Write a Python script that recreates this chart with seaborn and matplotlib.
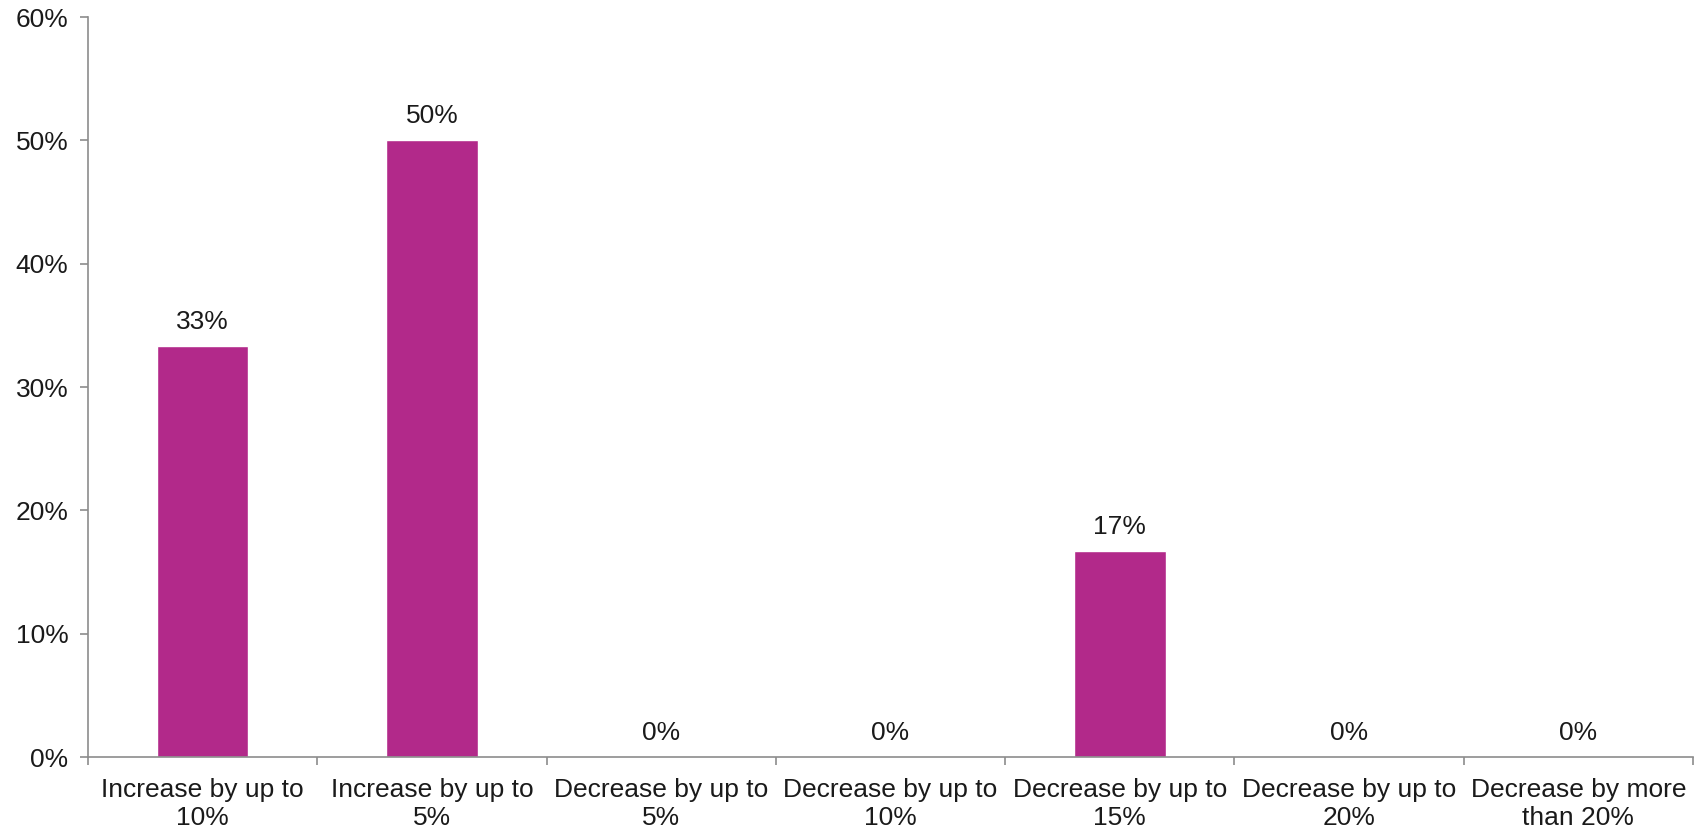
import matplotlib
matplotlib.use("Agg")
import matplotlib.pyplot as plt
import seaborn as sns
import pandas as pd
from matplotlib.ticker import FixedLocator, FuncFormatter

categories = [
    "Increase by up to\n10%",
    "Increase by up to\n5%",
    "Decrease by up to\n5%",
    "Decrease by up to\n10%",
    "Decrease by up to\n15%",
    "Decrease by up to\n20%",
    "Decrease by more\nthan 20%",
]
shares = [33.3, 50.0, 0.0, 0.0, 16.7, 0.0, 0.0]
y_ticks = [0, 10, 20, 30, 40, 50, 60]

sns.set_style("white")
plt.rcParams["font.family"] = ["Liberation Sans", "DejaVu Sans"]
plt.rcParams["font.size"] = 19

df = pd.DataFrame({"category": categories, "share": shares})

fig = plt.figure(figsize=(17.02, 8.34), dpi=100)
ax = fig.add_axes([0.0517, 0.0923, 0.943, 0.8873])

sns.barplot(data=df, x="category", y="share", color="#B2298A",
            saturation=1, width=0.4, ax=ax)

ax.set_xlim(-0.5, len(categories) - 0.5)
ax.set_ylim(0, 60)
ax.set_xlabel("")
ax.set_ylabel("")

axis_color = "#8C8C8C"
for side in ("top", "right"):
    ax.spines[side].set_visible(False)
for side in ("left", "bottom"):
    ax.spines[side].set_color(axis_color)
    ax.spines[side].set_linewidth(1.2)

# Category labels centred, tick marks on category boundaries
ax.set_xticks(range(len(categories)))
ax.set_xticklabels(categories, color="#1a1a1a", fontsize=19, linespacing=1.2)
ax.tick_params(axis="x", which="major", length=0, pad=15)
ax.xaxis.set_minor_locator(FixedLocator([i - 0.5 for i in range(len(categories) + 1)]))
ax.tick_params(axis="x", which="minor", length=6, width=1.2, color=axis_color,
               direction="out", bottom=True)

ax.set_yticks(y_ticks)
ax.yaxis.set_major_formatter(FuncFormatter(lambda v, _: f"{v:.0f}%"))
ax.tick_params(axis="y", length=6, width=1.2, color=axis_color, direction="out",
               left=True, labelsize=19, labelcolor="#1a1a1a", pad=8)

for i, v in enumerate(shares):
    ax.annotate(f"{v:.0f}%", xy=(i, v), xytext=(0, 9), textcoords="offset points",
                ha="center", va="bottom", fontsize=19, color="#1a1a1a")

fig.savefig("out.png", dpi=100)
